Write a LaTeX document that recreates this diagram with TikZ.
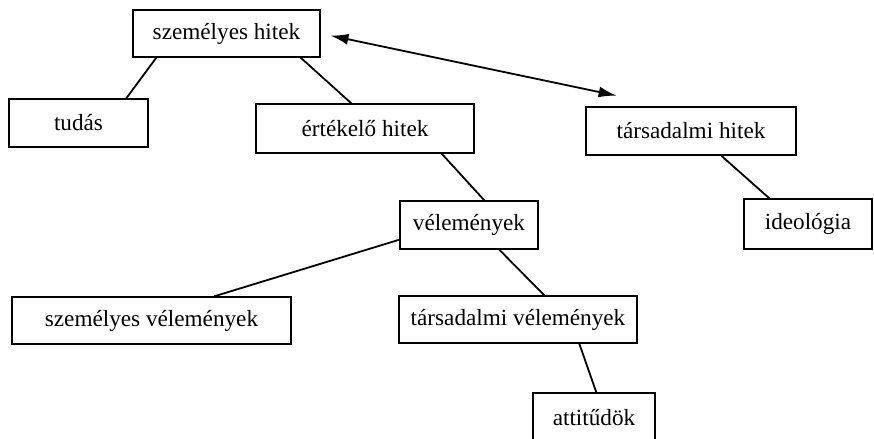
\documentclass[tikz,border=0pt]{standalone}
\usepackage{fontspec}
\setmainfont{Liberation Serif}
\usepackage{tikz}
\usetikzlibrary{calc,arrows.meta}

\begin{document}
\begin{tikzpicture}[
                    x=0.5pt,
                    y=-0.5pt,
                    line width=0.9pt,
                    box/.style={draw, line width=0.7pt, inner sep=0pt,
                                font=\fontsize{11.6}{14}\selectfont},
                    dbl/.style={{Latex[length=9pt,width=5.5pt]}-{Latex[length=9pt,width=5.5pt]}}
                ]
                \clip (0,0) rectangle (874,439);

                \node[box, minimum width=93.5pt, minimum height=23.5pt] (szh) at (226.5,33.5) {személyes hitek};
                \node[box, minimum width=69.5pt, minimum height=24pt] (tudas) at (78.5,123) {tudás};
                \node[box, minimum width=109pt, minimum height=24.5pt] (erth) at (365,128.5) {értékelő hitek};
                \node[box, minimum width=105pt, minimum height=24pt] (tarsh) at (691,131) {társadalmi hitek};
                \node[box, minimum width=64pt, minimum height=25pt] (ideol) at (808,224) {ideológia};
                \node[box, minimum width=69pt, minimum height=24pt] (velem) at (469,225) {vélemények};
                \node[box, minimum width=139.5pt, minimum height=23.5pt] (szv) at (151.5,320.5) {személyes vélemények};
                \node[box, minimum width=119pt, minimum height=23.5pt] (tv) at (518,319.5) {társadalmi vélemények};
                \node[box, minimum width=61pt, minimum height=25pt] (att) at (594,418) {attitűdök};

                \path
                ($(szh.south west)+(24,0)$) edge ($(tudas.north west)+(118,0)$)
                ($(szh.south east)+(-20,0)$) edge ($(erth.north west)+(96,0)$)
                ($(erth.south east)+(-33,0)$) edge ($(velem.north west)+(85,0)$)
                ($(velem.south west)+(0,-10)$) edge ($(szv.north west)+(203,0)$)
                ($(velem.south west)+(100,0)$) edge ($(tv.north west)+(146,0)$)
                ($(tv.south west)+(181,0)$) edge ($(att.north west)+(64,0)$)
                ($(tarsh.south west)+(136,0)$) edge ($(ideol.north west)+(26,0)$)
                (szh.east) edge[dbl, shorten <=5pt, shorten >=38pt] ($(tarsh.north)+(0,5)$)
                ;
            \end{tikzpicture}
\end{document}
